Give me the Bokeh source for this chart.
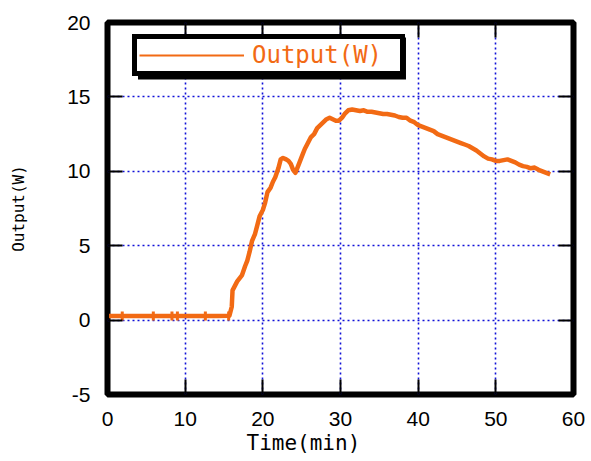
import math
from bokeh.plotting import figure
from bokeh.models import (Legend, LegendItem, BoxAnnotation, Title, LinearAxis,
                          SingleIntervalTicker, ColumnDataSource, CustomLabelingPolicy)
from bokeh.embed import file_html
from bokeh.resources import INLINE

# ---- data ----
time_min = [0.2, 2, 4, 6, 8, 10, 12, 14, 15.7, 15.8, 16.0, 16.1, 16.3, 16.7, 17.0,
            17.3, 17.7, 18.0, 18.3, 18.6, 19.0, 19.3, 19.6, 20.0, 20.3, 20.6, 21.0,
            21.3, 21.6, 22.0, 22.3, 22.6, 23.0, 23.3, 23.6, 23.9, 24.2, 24.5, 24.8,
            25.1, 25.4, 25.8, 26.2, 26.6, 27.0, 27.4, 27.8, 28.2, 28.6, 29.0, 29.4,
            29.8, 30.2, 30.6, 31.0, 31.5, 32.0, 32.5, 33.0, 33.5, 34.0, 34.5, 35.0,
            35.5, 36.0, 36.5, 37.0, 37.5, 38.0, 38.5, 39.0, 39.5, 40.0, 40.5, 41.0,
            41.5, 42.0, 42.5, 43.0, 43.5, 44.0, 44.5, 45.0, 45.5, 46.0, 46.5, 47.0,
            47.5, 48.0, 48.5, 49.0, 49.5, 50.0, 50.5, 51.0, 51.5, 52.0, 52.5, 53.0,
            53.5, 54.0, 54.5, 55.0, 55.5, 56.0, 56.5, 57.0]
output_w = [0.28, 0.28, 0.28, 0.28, 0.28, 0.28, 0.28, 0.28, 0.3, 0.5, 0.9, 2.0, 2.2, 2.6, 2.8,
            3.0, 3.6, 4.0, 4.6, 5.3, 5.8, 6.4, 7.0, 7.4, 7.9, 8.6, 8.9,
            9.3, 9.6, 10.2, 10.8, 10.9, 10.8, 10.7, 10.5, 10.1, 9.9, 10.3, 10.7,
            11.1, 11.5, 11.9, 12.3, 12.5, 12.9, 13.1, 13.3, 13.5, 13.6, 13.5, 13.4,
            13.4, 13.6, 13.9, 14.1, 14.15, 14.1, 14.05, 14.1, 14.0, 14.0, 13.95, 13.9,
            13.85, 13.85, 13.8, 13.75, 13.65, 13.6, 13.6, 13.4, 13.3, 13.1, 13.0, 12.9,
            12.8, 12.7, 12.5, 12.4, 12.3, 12.2, 12.1, 12.0, 11.9, 11.8, 11.7, 11.55,
            11.4, 11.2, 11.0, 10.85, 10.8, 10.7, 10.7, 10.75, 10.8, 10.7, 10.6, 10.45,
            10.35, 10.3, 10.2, 10.25, 10.1, 10.0, 9.9, 9.8]
marker_t = [1.9, 5.9, 8.3, 9.0, 12.6, 15.6]
marker_w = [0.28, 0.28, 0.28, 0.28, 0.28, 0.28]

x_range = (0, 60)
y_range = (-5, 20)
series_name = "Output(W)"
x_title = "Time(min)"
y_title = "Output(W)"

ORANGE = "#f26a14"
GRID = "#1010d8"

p = figure(width=591, height=461, x_range=x_range, y_range=y_range,
           output_backend="svg", toolbar_location=None,
           min_border_left=107, min_border_right=18, min_border_top=22,
           min_border_bottom=67)
p.background_fill_color = "white"
p.border_fill_color = "white"
p.outline_line_color = "black"
p.outline_line_width = 6
p.outline_line_alpha = 1

# axes
p.xaxis.ticker = SingleIntervalTicker(interval=10)
p.yaxis.ticker = SingleIntervalTicker(interval=5)
for ax in (p.xaxis[0], p.yaxis[0]):
    ax.axis_line_color = None
    ax.major_tick_in = 15
    ax.major_tick_out = 0
    ax.major_tick_line_width = 2
    ax.major_tick_line_color = "black"
    ax.minor_tick_line_color = None
    ax.major_label_text_font = "Liberation Sans"
    ax.major_label_text_font_size = "21px"
    ax.major_label_text_color = "black"
p.yaxis.major_label_overrides = {-5: "-5"}
p.xaxis.major_label_standoff = 13
p.yaxis.major_label_standoff = 13
p.yaxis.axis_label = y_title
p.yaxis.axis_label_text_font = "DejaVu Sans Mono"
p.yaxis.axis_label_text_font_size = "16px"
p.yaxis.axis_label_text_font_style = "normal"
p.yaxis.axis_label_text_color = "black"
p.yaxis.axis_label_standoff = 36

for side, interval in (("above", 10), ("right", 5)):
    ax = LinearAxis(ticker=SingleIntervalTicker(interval=interval))
    ax.axis_line_color = None
    ax.major_tick_in = 15
    ax.major_tick_out = 0
    ax.major_tick_line_width = 2
    ax.major_tick_line_color = "black"
    ax.minor_tick_line_color = None
    ax.major_label_text_font_size = "1px"
    ax.major_label_standoff = 0
    ax.major_label_policy = CustomLabelingPolicy(code="return []")
    p.add_layout(ax, side)

# grid
for g in (p.xgrid[0], p.ygrid[0]):
    g.grid_line_color = GRID
    g.grid_line_dash = "2 3"
    g.grid_line_width = 1.6

src = ColumnDataSource(dict(t=time_min, w=output_w))
p.line("t", "w", source=src, line_color=ORANGE, line_width=4.5, line_join="round")
p.scatter(marker_t, marker_w, marker="dash", angle=math.pi / 2, size=9,
          line_color=ORANGE, line_width=3)

# legend proxy (thin line as in the reference legend)
proxy = p.line(x=[float("nan")], y=[float("nan")], line_color=ORANGE, line_width=2)

# legend shadow
shadow = BoxAnnotation(left=(137 - 106.5) / 7.767, right=(405 - 106.5) / 7.767,
                       top=(319.6 - 37) / 14.88, bottom=(319.6 - 79) / 14.88,
                       fill_color="black", fill_alpha=1, line_color=None)
p.add_layout(shadow)

legend = Legend(items=[LegendItem(label=series_name, renderers=[proxy])],
                location=(25, 318), orientation="vertical")
legend.border_line_color = "black"
legend.border_line_width = 5
legend.border_line_alpha = 1
legend.background_fill_color = "white"
legend.background_fill_alpha = 1
legend.label_text_font = "DejaVu Sans Mono"
legend.label_text_font_size = "24px"
legend.label_text_color = ORANGE
legend.glyph_width = 105
legend.glyph_height = 20
legend.padding = 2
legend.label_standoff = 8
legend.label_width = 146
legend.margin = 0
p.add_layout(legend)

xt = Title(text=x_title, align="left", offset=139, standoff=0,
           text_font="DejaVu Sans Mono", text_font_size="21px",
           text_font_style="normal", text_color="black")
p.add_layout(xt, "below")

open("out.html", "w").write(file_html(p, INLINE))
